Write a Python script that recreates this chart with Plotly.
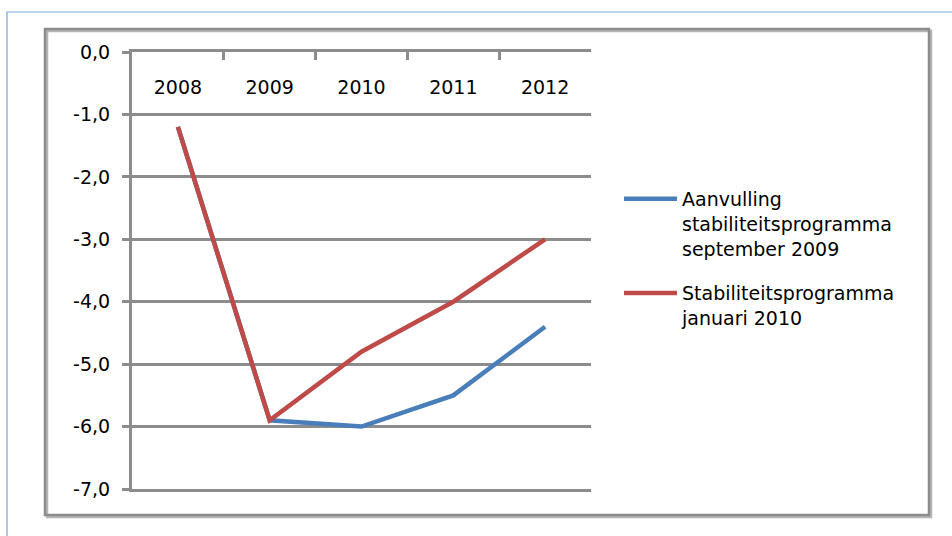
import plotly.graph_objects as go

years = ["2008", "2009", "2010", "2011", "2012"]
aanvulling = [-1.2, -5.9, -6.0, -5.5, -4.4]
stabiliteit = [-1.2, -5.9, -4.8, -4.0, -3.0]
names = ["Aanvulling<br>stabiliteitsprogramma<br>september 2009",
         "Stabiliteitsprogramma<br>januari 2010"]
colors = ["#4A7EBB", "#BE4B48"]
y_ticks = [-7, -6, -5, -4, -3, -2, -1, 0]
y_ticktext = ["-7,0", "-6,0", "-5,0", "-4,0", "-3,0", "-2,0", "-1,0", "0,0"]

FONT = "DejaVu Sans"
GRID = "#8c8c8c"

# pixel geometry of the plot area
L, R, T, B = 132, 591, 52, 489
W, H = 952, 536
def px(x):
    return (x - L) / (R - L)
def py(y):
    return (B - y) / (B - T)

fig = go.Figure()
for vals, name, col, grp in [(aanvulling, names[0], colors[0], "a"),
                             (stabiliteit, names[1], colors[1], "b")]:
    fig.add_trace(go.Scatter(x=years, y=vals, name=name, mode="lines",
                             line=dict(color=col, width=4.5),
                             legendgroup=grp, xaxis="x", yaxis="y"))

# invisible trace to carry the label axis
fig.add_trace(go.Scatter(x=years, y=[None]*5, xaxis="x2", yaxis="y",
                         showlegend=False, hoverinfo="skip"))

fig.update_layout(
    width=W, height=H,
    margin=dict(l=L, r=W - R, t=T, b=H - B),
    paper_bgcolor="white", plot_bgcolor="white",
    font=dict(family=FONT, size=19, color="black"),
    showlegend=True,
    legend=dict(x=px(619), y=py(180), xanchor="left", yanchor="top",
                valign="top", traceorder="grouped", tracegroupgap=17,
                font=dict(family=FONT, size=19, color="black"),
                bgcolor="rgba(0,0,0,0)", itemwidth=53),
    xaxis=dict(type="category", range=[-0.5, 4.5], side="top",
               showline=True, mirror=True, linecolor=GRID, linewidth=3,
               ticks="inside", tickson="boundaries", ticklen=8,
               tickcolor=GRID, tickwidth=3,
               showticklabels=False, showgrid=False, zeroline=False,
               anchor="y"),
    xaxis2=dict(type="category", range=[-0.5, 4.5], overlaying="x",
                side="bottom", anchor="free", position=py(74),
                showline=False, ticks="", showgrid=False, zeroline=False,
                tickfont=dict(family=FONT, size=19, color="black")),
    yaxis=dict(range=[-7, 0], tickvals=y_ticks, ticktext=y_ticktext,
               showline=True, linecolor=GRID, linewidth=3,
               ticks="outside", ticklen=7, tickcolor=GRID, tickwidth=3,
               showgrid=True, gridcolor=GRID, gridwidth=2.5,
               zeroline=False, tickfont=dict(family=FONT, size=19, color="black"),
               ticklabelstandoff=8),
    shapes=[
        dict(type="rect", xref="paper", yref="paper",
             x0=px(7), x1=px(990), y0=py(600), y1=py(12),
             line=dict(color="#7aa6d8", width=1.2), layer="below"),
        dict(type="rect", xref="paper", yref="paper",
             x0=px(47), x1=px(931), y0=py(517), y1=py(31),
             line=dict(color="#b5b5b5", width=2.5), layer="below"),
        dict(type="rect", xref="paper", yref="paper",
             x0=px(45), x1=px(929), y0=py(515), y1=py(29),
             line=dict(color="#8c8c8c", width=2.5), layer="below"),
    ],
)

fig.write_html("out.html")
